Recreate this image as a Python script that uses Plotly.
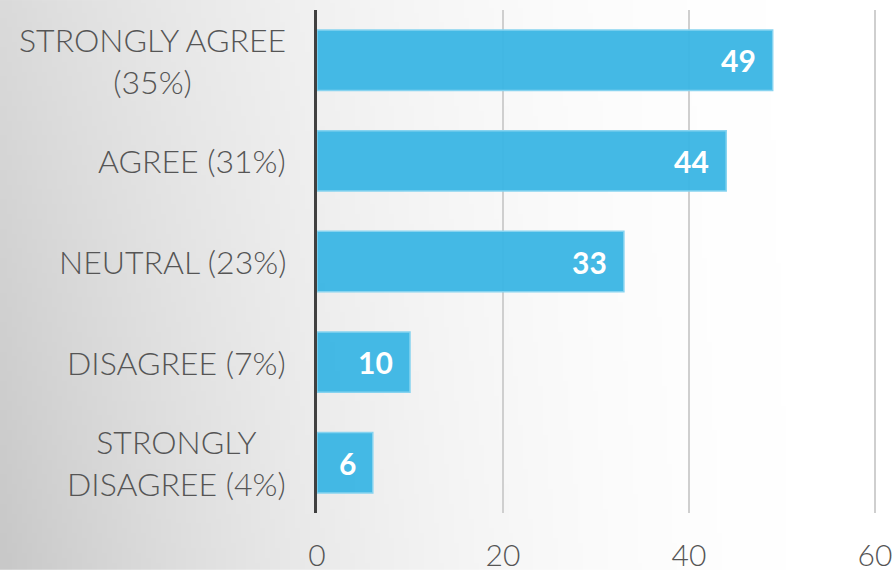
import base64
import struct
import zlib

import plotly.graph_objects as go

# Survey responses
categories = ["STRONGLY AGREE", "AGREE", "NEUTRAL", "DISAGREE", "STRONGLY DISAGREE"]
label_lines = [
    "STRONGLY AGREE<br>(35%)",
    "AGREE (31%)",
    "NEUTRAL (23%)",
    "DISAGREE (7%)",
    "STRONGLY<br>DISAGREE (4%)",
]
counts = [49, 44, 33, 10, 6]
x_ticks = [0, 20, 40, 60]

W, H = 893, 572
LABEL_FONT = "Lato, 'Open Sans', sans-serif"
TEXT_GREY = "#555555"


def gradient_png(w, h):
    """Soft grey-to-white backdrop, lightest toward the upper right."""
    rows = []
    for j in range(h):
        row = bytearray([0])
        fy = j / (h - 1)
        for i in range(w):
            fx = 1 - i / (w - 1)
            drop = 37 * (fx ** 2.2) * (1 + 0.5 * fy)
            v = max(0, min(255, int(round(255 - drop))))
            row += bytes([v, v, v])
        rows.append(bytes(row))
    raw = b"".join(rows)

    def chunk(tag, data):
        c = struct.pack(">I", len(data)) + tag + data
        return c + struct.pack(">I", zlib.crc32(tag + data) & 0xFFFFFFFF)

    png = b"\x89PNG\r\n\x1a\n"
    png += chunk(b"IHDR", struct.pack(">IIBBBBB", w, h, 8, 2, 0, 0, 0))
    png += chunk(b"IDAT", zlib.compress(raw, 9))
    png += chunk(b"IEND", b"")
    return "data:image/png;base64," + base64.b64encode(png).decode()


fig = go.Figure(
    go.Bar(
        x=counts,
        y=categories,
        orientation="h",
        marker=dict(
            color="rgba(58,181,228,0.95)",
            line=dict(color="#86d3f0", width=1.5),
        ),
        hoverinfo="skip",
    )
)

# Value labels inside the bar ends
for cat, val in zip(categories, counts):
    fig.add_annotation(
        x=val, y=cat, xref="x", yref="y",
        text=f"<b>{val}</b>", showarrow=False,
        xanchor="right", xshift=-15,
        font=dict(family=LABEL_FONT, size=30, color="white"),
    )

# Category labels, centred line by line to the left of the axis
for cat, lab in zip(categories, label_lines):
    fig.add_annotation(
        x=0, y=cat, xref="paper", yref="y",
        text=lab, showarrow=False, align="center",
        xanchor="right", xshift=-29,
        font=dict(family=LABEL_FONT, size=32, color=TEXT_GREY, weight=300),
    )

fig.add_layout_image(
    dict(
        source=gradient_png(180, 116),
        xref="paper", yref="paper",
        x=-317 / 576, y=1 + 10 / 505,
        sizex=W / 576, sizey=H / 505,
        xanchor="left", yanchor="top",
        sizing="stretch", layer="below",
    )
)

fig.update_layout(
    width=W,
    height=H,
    margin=dict(l=317, r=0, t=10, b=57),
    paper_bgcolor="white",
    plot_bgcolor="rgba(0,0,0,0)",
    bargap=0.4,
    showlegend=False,
    xaxis=dict(
        range=[0, 576 / 9.3],
        tickvals=x_ticks,
        showgrid=True,
        gridcolor="#cfcfcf",
        gridwidth=1.5,
        zeroline=False,
        showline=False,
        ticks="",
        ticklabelstandoff=22,
        tickfont=dict(family=LABEL_FONT, size=30, color=TEXT_GREY, weight=300),
    ),
    yaxis=dict(
        categoryorder="array",
        categoryarray=categories,
        autorange="reversed",
        showticklabels=False,
        showgrid=False,
        zeroline=False,
        showline=True,
        linecolor="#404040",
        linewidth=3,
        ticks="",
    ),
)

fig.write_html("out.html")
